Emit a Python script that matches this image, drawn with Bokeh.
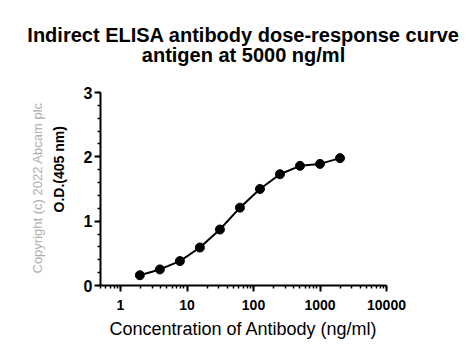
from bokeh.plotting import figure
from bokeh.models import Title, SingleIntervalTicker, LogTicker, NumeralTickFormatter
from bokeh.embed import file_html
from bokeh.resources import INLINE

concentration = [1.953, 3.906, 7.8125, 15.625, 31.25, 62.5, 125, 250, 500, 1000, 2000]
od405 = [0.16, 0.25, 0.38, 0.59, 0.87, 1.21, 1.50, 1.73, 1.86, 1.89, 1.98]
x_ticks = [1, 10, 100, 1000, 10000]
y_ticks = [0, 1, 2, 3]
title_lines = ["Indirect ELISA antibody dose-response curve", "antigen at 5000 ng/ml"]

FONT = "Liberation Sans"

p = figure(width=475, height=349, x_axis_type="log", x_range=(0.5, 10000), y_range=(0, 3),
           output_backend="svg", toolbar_location=None,
           min_border_left=100, min_border_right=89, min_border_top=92, min_border_bottom=64)

# outer title line
p.title.text = title_lines[0]
p.title.text_font = FONT
p.title.text_font_size = "20px"
p.title.text_font_style = "bold"
p.title.text_color = "black"
p.title.align = "center"
p.title.standoff = -61
# inner title line (closer to the plot)
p.add_layout(Title(text=title_lines[1], text_font=FONT, text_font_size="20px", text_font_style="bold",
                   text_color="black", align="center", standoff=53), "above")

p.add_layout(Title(text="O.D.(405 nm)", text_font=FONT, text_font_size="14px", text_color="black",
                   text_font_style="bold", align="left", offset=73, standoff=28), "left")
p.add_layout(Title(text="Copyright (c) 2022 Abcam plc", text_font=FONT, text_font_size="13px",
                   text_font_style="normal", text_color="#b0b0b0", align="left", offset=12, standoff=-20), "left")

p.line(concentration, od405, line_color="black", line_width=2)
p.scatter(concentration, od405, size=9, fill_color="black", line_color="black")

p.xgrid.visible = False
p.ygrid.visible = False
p.outline_line_color = None

xa = p.xaxis[0]
xa.ticker = LogTicker(num_minor_ticks=10)
xa.formatter = NumeralTickFormatter(format="0")
xa.axis_label = "Concentration of Antibody (ng/ml)"
xa.axis_label_text_font = FONT
xa.axis_label_text_font_size = "18px"
xa.axis_label_text_font_style = "normal"
xa.axis_label_text_color = "black"
xa.axis_label_standoff = 6
xa.major_label_text_font = FONT
xa.major_label_text_font_size = "14px"
xa.major_label_text_font_style = "bold"
xa.major_label_standoff = 8

ya = p.yaxis[0]
ya.ticker = SingleIntervalTicker(interval=1, num_minor_ticks=5)
ya.major_label_text_font = FONT
ya.major_label_text_font_size = "16px"
ya.major_label_text_font_style = "bold"
ya.major_label_standoff = 2

for ax in (xa, ya):
    ax.axis_line_width = 2
    ax.axis_line_color = "black"
    ax.major_tick_line_color = "black"
    ax.minor_tick_line_color = "black"
    ax.major_tick_line_width = 2
    ax.minor_tick_line_width = 1.5
    ax.major_tick_in = 0
    ax.major_tick_out = 6
    ax.minor_tick_in = 0
    ax.minor_tick_out = 3
    ax.major_label_text_color = "black"

open("out.html", "w").write(file_html(p, INLINE))
